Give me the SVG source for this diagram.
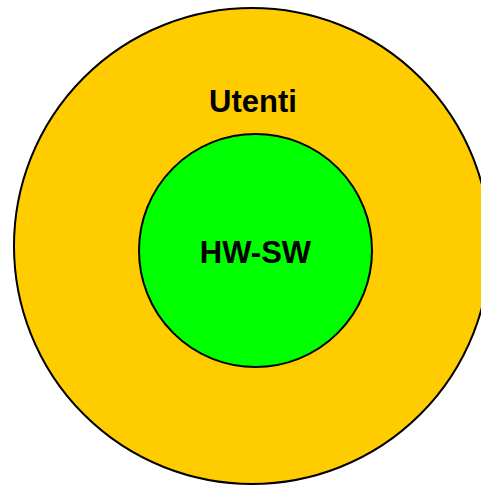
<svg xmlns="http://www.w3.org/2000/svg" width="481" height="487" viewBox="0 0 481 487">
<style>
.c{stroke:#000;stroke-width:2}
.t{font-family:"Liberation Sans",Arial,sans-serif;font-weight:bold;font-size:31px;fill:#000;text-anchor:middle}
</style>
<rect width="481" height="487" fill="#fff"/>
<g id="utenti">
<circle class="c" cx="252" cy="246" r="238" fill="#ffcc00"/>
<text class="t" x="253" y="112">Utenti</text>
</g>
<g id="hwsw">
<circle class="c" cx="255.5" cy="250.5" r="116.5" fill="#00ff00"/>
<text class="t" x="255.5" y="263">HW-SW</text>
</g>
<g id="connectors"/>
</svg>
